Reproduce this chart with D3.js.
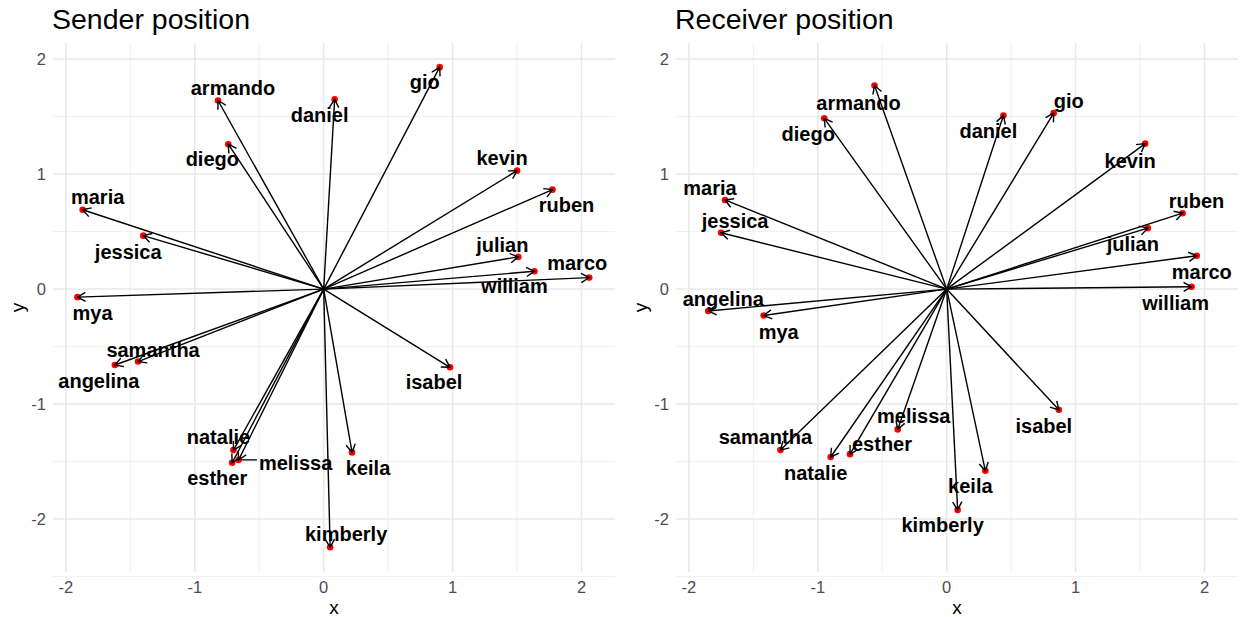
<!DOCTYPE html>
<html>
<head>
<meta charset="utf-8">
<script src="https://d3js.org/d3.v7.min.js"></script>
<style>
  body { margin: 0; background: #fff; }
  text { font-family: "Liberation Sans", Arial, sans-serif; }
</style>
</head>
<body>
<div id="chart"></div>
<script>
// people, in the same order for every array below
var names = ["armando", "daniel", "gio", "diego", "kevin", "ruben", "maria", "jessica",
  "julian", "marco", "william", "mya", "samantha", "angelina", "isabel", "natalie",
  "melissa", "esther", "keila", "kimberly"];

var senderX = [-0.82, 0.085, 0.90, -0.74, 1.50, 1.775, -1.87, -1.40,
  1.51, 2.06, 1.635, -1.91, -1.44, -1.62, 0.98, -0.70,
  -0.66, -0.71, 0.22, 0.05];
var senderY = [1.64, 1.65, 1.93, 1.26, 1.03, 0.865, 0.69, 0.465,
  0.28, 0.10, 0.155, -0.07, -0.63, -0.66, -0.68, -1.40,
  -1.485, -1.51, -1.42, -2.245];

var receiverX = [-0.56, 0.44, 0.83, -0.95, 1.54, 1.83, -1.72, -1.75,
  1.56, 1.94, 1.90, -1.42, -1.29, -1.85, 0.87, -0.90,
  -0.38, -0.75, 0.30, 0.085];
var receiverY = [1.77, 1.51, 1.53, 1.485, 1.265, 0.66, 0.775, 0.49,
  0.53, 0.29, 0.02, -0.23, -1.40, -0.19, -1.05, -1.46,
  -1.22, -1.435, -1.58, -1.92];

var xTicks = [-2, -1, 0, 1, 2];
var yTicks = [-2, -1, 0, 1, 2];

// label placement (pixel offsets from the point, repel-style)
var senderNudge = [[15,-13],[-15,16],[-15,15],[-16,15],[-15,-13],[14,15],[15,-13],[-15,16],
  [-16,-12],[-12,-15],[-20,15],[15,16],[15,-12],[-16,16],[-16,15],[-15,-13],
  [57,3],[-15,15],[16,16],[16,-13]];
var receiverNudge = [[-16,17],[-15,16],[15,-12],[-16,16],[-15,17],[14,-12],[-15,-12],[14,-12],
  [-15,16],[5,16],[-16,16],[15,16],[-15,-13],[15,-12],[-15,16],[-15,16],
  [16,-13],[32,-10],[-15,15],[-15,15]];

var width = 1242, height = 617;
var svg = d3.select("#chart").append("svg")
  .attr("width", width)
  .attr("height", height);

svg.append("defs").append("marker")
  .attr("id", "arrow")
  .attr("markerUnits", "userSpaceOnUse")
  .attr("viewBox", "-10 -6 12 12")
  .attr("markerWidth", 12)
  .attr("markerHeight", 12)
  .attr("refX", 0)
  .attr("refY", 0)
  .attr("orient", "auto")
  .append("path")
  .attr("d", "M-8,-4.6L0,0L-8,4.6")
  .attr("fill", "none")
  .attr("stroke", "black")
  .attr("stroke-width", 1.4);

function panel(left, title, xs, ys, nudge) {
  var plotW = 562, top = 43, bottom = 572;
  var x = d3.scaleLinear().domain([-2.10, 2.26]).range([left, left + plotW]);
  var y = d3.scaleLinear().domain([-2.46, 2.14]).range([bottom, top]);
  var g = svg.append("g");

  // minor grid
  var xMinor = d3.range(-2, 2.5, 0.5).filter(function(v) { return v % 1 !== 0; });
  var yMinor = d3.range(-2.5, 2.5, 0.5).filter(function(v) { return v % 1 !== 0; });
  g.selectAll(".xminor").data(xMinor).enter().append("line")
    .attr("x1", function(d) { return x(d); }).attr("x2", function(d) { return x(d); })
    .attr("y1", top).attr("y2", bottom)
    .attr("stroke", "#ebebeb").attr("stroke-width", 0.8);
  g.selectAll(".yminor").data(yMinor).enter().append("line")
    .attr("y1", function(d) { return y(d); }).attr("y2", function(d) { return y(d); })
    .attr("x1", left).attr("x2", left + plotW)
    .attr("stroke", "#ebebeb").attr("stroke-width", 0.8);

  // major grid
  g.selectAll(".xmajor").data(xTicks).enter().append("line")
    .attr("x1", function(d) { return x(d); }).attr("x2", function(d) { return x(d); })
    .attr("y1", top).attr("y2", bottom)
    .attr("stroke", "#e8e8e8").attr("stroke-width", 1.5);
  g.selectAll(".ymajor").data(yTicks).enter().append("line")
    .attr("y1", function(d) { return y(d); }).attr("y2", function(d) { return y(d); })
    .attr("x1", left).attr("x2", left + plotW)
    .attr("stroke", "#e8e8e8").attr("stroke-width", 1.5);

  // tick labels
  g.selectAll(".xt").data(xTicks).enter().append("text")
    .attr("x", function(d) { return x(d); })
    .attr("y", 593)
    .attr("text-anchor", "middle")
    .attr("font-size", 16.5)
    .attr("fill", "#4d4d4d")
    .text(function(d) { return d; });
  g.selectAll(".yt").data(yTicks).enter().append("text")
    .attr("x", left - 7)
    .attr("y", function(d) { return y(d); })
    .attr("dy", "0.35em")
    .attr("text-anchor", "end")
    .attr("font-size", 16.5)
    .attr("fill", "#4d4d4d")
    .text(function(d) { return d; });

  // axis titles
  g.append("text").attr("x", left + plotW / 2).attr("y", 614)
    .attr("text-anchor", "middle").attr("font-size", 19).text("x");
  g.append("text")
    .attr("transform", "translate(" + (left - 36) + "," + ((top + bottom) / 2) + ") rotate(-90)")
    .attr("text-anchor", "middle").attr("dy", "0.35em").attr("font-size", 19).text("y");

  g.append("text").attr("x", left - 1).attr("y", 29)
    .attr("font-size", 28.5).text(title);

  var data = names.map(function(n, i) {
    return { name: n, x: xs[i], y: ys[i], dx: nudge[i][0], dy: nudge[i][1] };
  });

  g.selectAll(".pt").data(data).enter().append("circle")
    .attr("cx", function(d) { return x(d.x); })
    .attr("cy", function(d) { return y(d.y); })
    .attr("r", 3.3)
    .attr("fill", "red");

  g.selectAll(".arr").data(data).enter().append("line")
    .attr("x1", x(0)).attr("y1", y(0))
    .attr("x2", function(d) { return x(d.x); })
    .attr("y2", function(d) { return y(d.y); })
    .attr("stroke", "black")
    .attr("stroke-width", 1.4)
    .attr("marker-end", "url(#arrow)");

  var labels = g.selectAll(".lab").data(data).enter().append("text")
    .attr("x", function(d) { return x(d.x) + d.dx; })
    .attr("y", function(d) { return y(d.y) + d.dy; })
    .attr("dy", "0.35em")
    .attr("text-anchor", "middle")
    .attr("font-size", 20)
    .attr("font-weight", "bold")
    .text(function(d) { return d.name; });

  // connector segment for labels that sit far from their point
  labels.each(function(d) {
    var b = this.getBBox();
    var px = x(d.x), py = y(d.y);
    var cx = Math.max(b.x, Math.min(px, b.x + b.width));
    var cy = Math.max(b.y, Math.min(py, b.y + b.height));
    var dist = Math.hypot(cx - px, cy - py);
    if (dist > 12) {
      g.insert("line", "text")
        .attr("x1", px).attr("y1", py)
        .attr("x2", cx - 2).attr("y2", py)
        .attr("stroke", "black").attr("stroke-width", 1.3);
    }
  });
}

panel(53, "Sender position", senderX, senderY, senderNudge);
panel(676, "Receiver position", receiverX, receiverY, receiverNudge);
</script>
</body>
</html>
